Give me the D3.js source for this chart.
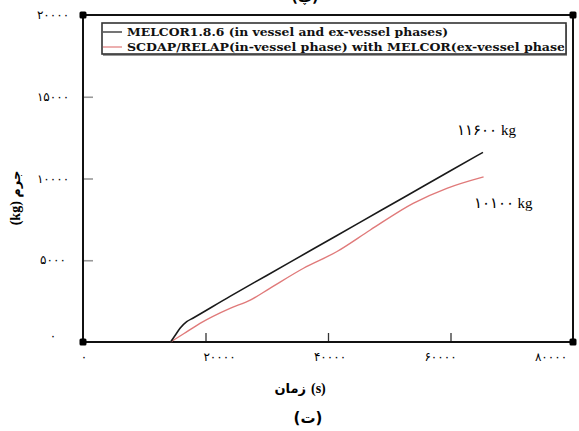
<!DOCTYPE html>
<html>
<head>
<meta charset="utf-8">
<script src="https://cdn.jsdelivr.net/npm/d3@7"></script>
<style>
  html, body { margin: 0; padding: 0; background: #fff; }
  svg { display: block; }
</style>
</head>
<body>
<svg id="chart" width="579" height="431"></svg>
<script>
// Molten mass vs. time for two code calculations
const seriesNames = [
  "MELCOR1.8.6 (in vessel and ex-vessel phases)",
  "SCDAP/RELAP(in-vessel phase) with MELCOR(ex-vessel phase)"
];
const melcorTime = [14300, 15000, 15840, 16930, 18000, 24000, 30000, 37500, 45000, 52500, 60000, 65300];
const melcorMass = [0, 380, 835, 1240, 1470, 2790, 4070, 5670, 7270, 8870, 10470, 11600];
const scdapTime = [14300, 16500, 19100, 24000, 27300, 30500, 36000, 41400, 46900, 53900, 59400, 65400];
const scdapMass = [0, 520, 1140, 2060, 2560, 3280, 4510, 5520, 6850, 8480, 9400, 10100];
const xTicks = [0, 20000, 40000, 60000, 80000];
const yTicks = [0, 5000, 10000, 15000, 20000];
const endLabels = ["۱۱۶۰۰ kg", "۱۰۱۰۰ kg"];

const fa = n => String(n).replace(/\d/g, d => "۰۱۲۳۴۵۶۷۸۹"[d]);

const svg = d3.select("#chart");
const margin = { left: 83, right: 6, top: 15, bottom: 89 };
const W = 579, H = 431;
const x = d3.scaleLinear().domain([0, 80000]).range([margin.left, W - margin.right]);
const y = d3.scaleLinear().domain([0, 20000]).range([H - margin.bottom, margin.top]);

// tick marks pointing inward
svg.append("g")
  .attr("transform", `translate(0,${y(0)})`)
  .call(d3.axisBottom(x).tickValues(xTicks.slice(1, 4)).tickSize(-9).tickFormat(""))
  .call(g => g.select(".domain").remove())
  .call(g => g.selectAll("line").attr("stroke", "#333").attr("stroke-width", 1.3));
svg.append("g")
  .attr("transform", `translate(${x(0)},0)`)
  .call(d3.axisLeft(y).tickValues(yTicks.slice(1, 4)).tickSize(-10).tickFormat(""))
  .call(g => g.select(".domain").remove())
  .call(g => g.selectAll("line").attr("stroke", "#999").attr("stroke-width", 1.6));

// frame
svg.append("rect")
  .attr("x", x(0)).attr("y", y(20000))
  .attr("width", x(80000) - x(0)).attr("height", y(0) - y(20000))
  .attr("fill", "none").attr("stroke", "#111").attr("stroke-width", 2);

// corner markers
const corners = [[0, 0], [80000, 0], [0, 20000], [80000, 20000]];
svg.selectAll("rect.corner").data(corners).join("rect")
  .attr("class", "corner")
  .attr("x", d => x(d[0]) - 3.5).attr("y", d => y(d[1]) - 3.5)
  .attr("width", 7).attr("height", 7).attr("rx", 1.5)
  .attr("fill", "#000");

// tick labels
const tickFont = "'DejaVu Sans', sans-serif";
const xLabelPos = d3.scaleLinear().domain([20000, 80000]).range([x(20000) + 14, x(80000) - 22]);
svg.selectAll("text.xt").data(xTicks).join("text")
  .attr("class", "xt")
  .attr("x", d => d === 0 ? x(0) + 1 : xLabelPos(d))
  .attr("y", 361)
  .attr("text-anchor", "middle")
  .attr("font-family", tickFont).attr("font-size", 12)
  .text(d => fa(d));
svg.selectAll("text.yt").data(yTicks).join("text")
  .attr("class", "yt")
  .attr("x", 53)
  .attr("y", d => y(d) + (d === 0 ? -2 : 4))
  .attr("text-anchor", "middle")
  .attr("font-family", tickFont).attr("font-size", 12)
  .text(d => fa(d));

// curves
const smooth = d3.line().x(d => x(d[0])).y(d => y(d[1])).curve(d3.curveMonotoneX);
svg.append("path")
  .datum(scdapTime.map((t, i) => [t, scdapMass[i]]))
  .attr("d", smooth).attr("fill", "none")
  .attr("stroke", "#e07a7a").attr("stroke-width", 1.4);
svg.append("path")
  .datum(melcorTime.map((t, i) => [t, melcorMass[i]]))
  .attr("d", smooth).attr("fill", "none")
  .attr("stroke", "#1a1a1a").attr("stroke-width", 1.6);

// end-value annotations
const annFont = "'Liberation Serif', 'DejaVu Serif', serif";
svg.append("text")
  .attr("x", x(melcorTime[melcorTime.length - 1]) + 33).attr("y", y(melcorMass[melcorMass.length - 1]) - 17)
  .attr("text-anchor", "end").attr("font-family", annFont).attr("font-size", 15)
  .text(endLabels[0]);
svg.append("text")
  .attr("x", x(scdapTime[scdapTime.length - 1]) + 49).attr("y", y(scdapMass[scdapMass.length - 1]) + 31)
  .attr("text-anchor", "end").attr("font-family", annFont).attr("font-size", 15)
  .text(endLabels[1]);

// legend
const lg = svg.append("g");
const box = { x: 102, y: 23, w: 464, h: 31 };
lg.append("rect")
  .attr("x", box.x + 1).attr("y", box.y + 2).attr("width", box.w).attr("height", box.h)
  .attr("fill", "#999");
lg.append("rect")
  .attr("x", box.x).attr("y", box.y).attr("width", box.w).attr("height", box.h)
  .attr("fill", "#fff").attr("stroke", "#333").attr("stroke-width", 1.6);
svg.append("clipPath").attr("id", "lgclip")
  .append("rect").attr("x", box.x).attr("y", box.y).attr("width", box.w - 1.5).attr("height", box.h);
const legendColors = ["#1a1a1a", "#e07a7a"];
const legendLen = [321, 444];
seriesNames.forEach((name, i) => {
  const ly = 32 + i * 15;
  lg.append("line")
    .attr("x1", box.x + 1).attr("x2", box.x + 20).attr("y1", ly).attr("y2", ly)
    .attr("stroke", legendColors[i]).attr("stroke-width", 1.2);
  lg.append("text")
    .attr("x", 127).attr("y", ly + 4)
    .attr("clip-path", "url(#lgclip)")
    .attr("font-family", "'DejaVu Serif', serif").attr("font-weight", "bold").attr("font-size", 11.5)
    .attr("textLength", legendLen[i]).attr("lengthAdjust", "spacingAndGlyphs")
    .attr("fill", "#111")
    .text(name);
});

// titles
const titleFont = "'DejaVu Sans', sans-serif";
svg.append("text")
  .attr("x", 305).attr("y", 2).attr("text-anchor", "middle")
  .attr("font-family", titleFont).attr("font-weight", "bold").attr("font-size", 14)
  .text("(پ)");
// x-axis title: Persian word on the left, unit on the right
svg.append("text")
  .attr("x", 306).attr("y", 393).attr("text-anchor", "end")
  .attr("font-family", titleFont).attr("font-weight", "bold").attr("font-size", 13)
  .text("زمان");
svg.append("text")
  .attr("x", 311).attr("y", 393).attr("text-anchor", "start")
  .attr("font-family", "'Liberation Serif', serif").attr("font-weight", "bold").attr("font-size", 14)
  .text("(s)");
svg.append("text")
  .attr("x", 308).attr("y", 423).attr("text-anchor", "middle")
  .attr("font-family", titleFont).attr("font-weight", "bold").attr("font-size", 15)
  .text("(ت)");
// y-axis title, reading bottom to top: unit then Persian word
const yt = svg.append("text")
  .attr("transform", `translate(20,198) rotate(-90)`)
  .attr("text-anchor", "middle")
  .attr("font-weight", "bold");
yt.append("tspan").attr("font-family", "'Liberation Serif', serif").attr("font-size", 14).text("(kg) ");
yt.append("tspan").attr("font-family", titleFont).attr("font-size", 13).text("جرم");
</script>
</body>
</html>
